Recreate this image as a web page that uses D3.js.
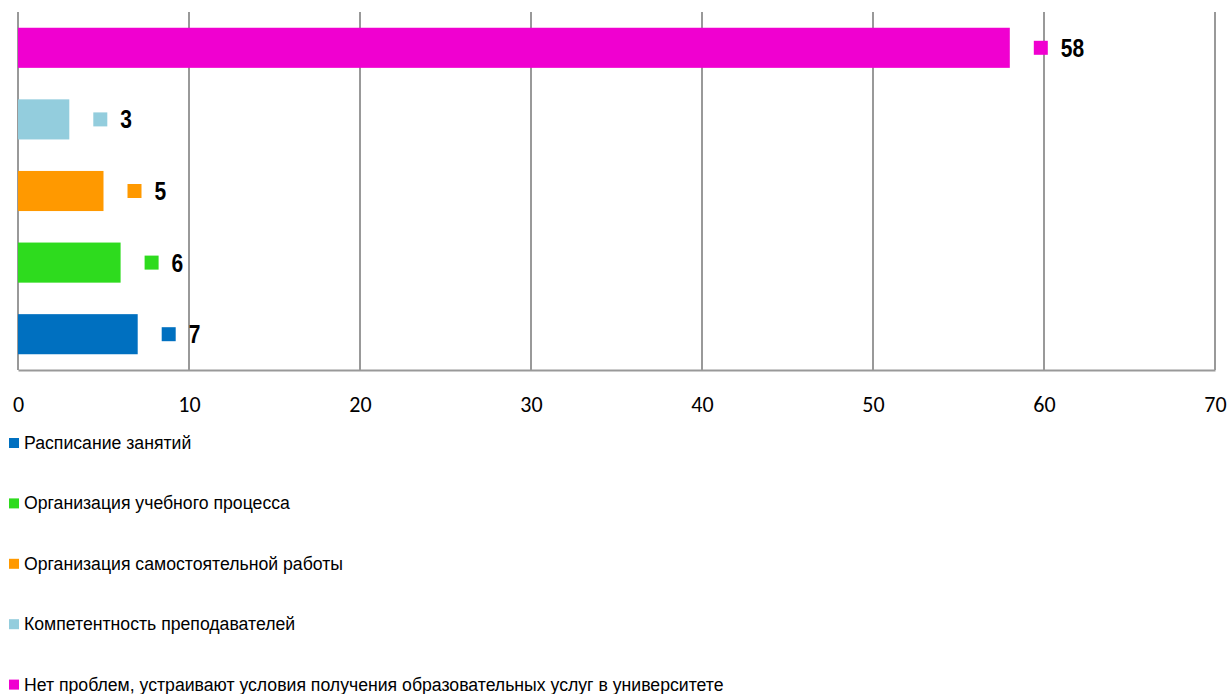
<!DOCTYPE html>
<html><head><meta charset="utf-8">
<script src="https://cdn.jsdelivr.net/npm/d3@7"></script>
<style>
body{margin:0;background:#fff;}
svg{display:block;}
.narrow{font-family:"Liberation Sans Narrow","Arial Narrow","Liberation Sans",sans-serif;}
</style></head>
<body><svg id="c" width="1232" height="694"></svg>
<script>
const categories = ["Нет проблем, устраивают условия получения образовательных услуг в университете","Компетентность преподавателей","Организация самостоятельной работы","Организация учебного процесса","Расписание занятий"];
const values = [58, 3, 5, 6, 7];
const colors = ["#F000D0","#93CDDD","#FF9900","#2EDB1E","#0070C0"];
const legendOrder = ["Расписание занятий","Организация учебного процесса","Организация самостоятельной работы","Компетентность преподавателей","Нет проблем, устраивают условия получения образовательных услуг в университете"];
const xTicks = [0,10,20,30,40,50,60,70];

const svg = d3.select("#c");
const L = 18, R = 1215, T = 12, B = 370;
const x = d3.scaleLinear().domain([0,70]).range([L,R]);
const y = d3.scaleBand().domain(categories).range([T,B]).paddingInner(0.44).paddingOuter(0.22);
const color = d3.scaleOrdinal().domain(categories).range(colors);

// gridlines
svg.append("g").selectAll("line").data(xTicks.filter(d=>d>0)).join("line")
  .attr("x1",d=>x(d)).attr("x2",d=>x(d)).attr("y1",T).attr("y2",B)
  .attr("stroke","#999").attr("stroke-width",2);
svg.append("line").attr("x1",L).attr("x2",L).attr("y1",T).attr("y2",B).attr("stroke","#999").attr("stroke-width",2);
const ax = svg.append("g").attr("transform",`translate(0,${B})`)
  .call(d3.axisBottom(x).tickValues(xTicks).tickSize(0).tickPadding(26));
ax.select(".domain").attr("stroke","#999").attr("stroke-width",2);
ax.selectAll("text").attr("font-family","Carlito,'Open Sans',sans-serif").attr("font-size",22).attr("fill","#000");

// bars
svg.append("g").selectAll("rect").data(categories).join("rect")
  .attr("x",x(0)).attr("y",d=>y(d)).attr("height",y.bandwidth())
  .attr("width",(d,i)=>x(values[i])-x(0)).attr("fill",d=>color(d));

// labels with markers
const lab = svg.append("g").selectAll("g").data(categories).join("g");
lab.append("rect").attr("x",(d,i)=>x(values[i])+24).attr("y",d=>y(d)+y.bandwidth()/2-7)
  .attr("width",14).attr("height",14).attr("fill",d=>color(d));
lab.append("text").attr("class","narrow")
  .attr("transform",(d,i)=>`translate(${x(values[i])+51},${y(d)+y.bandwidth()/2+9}) scale(0.84,1)`)
  .attr("font-size",25).attr("font-weight","bold").text((d,i)=>values[i]);

// legend
const lg = svg.append("g").selectAll("g").data(legendOrder).join("g")
  .attr("transform",(d,i)=>`translate(9,${443+i*60.4})`);
lg.append("rect").attr("x",0).attr("y",-5).attr("width",10).attr("height",10).attr("fill",d=>color(d));
lg.append("text").attr("class","narrow").attr("transform","translate(15,6) scale(0.93,1)")
  .attr("font-size",19).text(d=>d);
</script></body></html>
